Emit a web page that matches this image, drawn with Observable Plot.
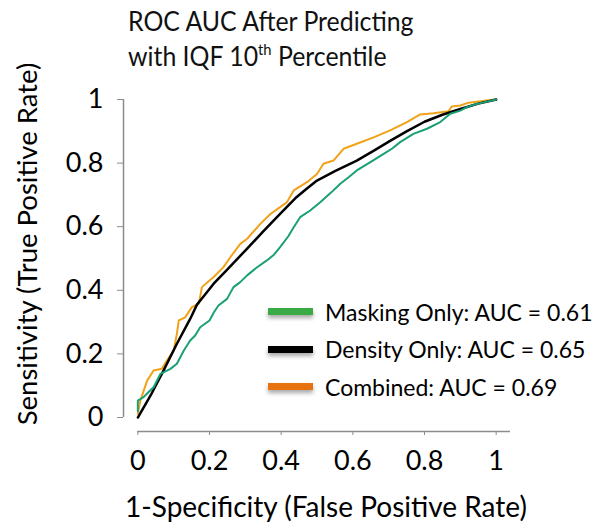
<!DOCTYPE html>
<html>
<head>
<meta charset="utf-8">
<script src="https://cdn.jsdelivr.net/npm/d3@7"></script>
<script src="https://cdn.jsdelivr.net/npm/@observablehq/plot@0.6"></script>
<style>
  html, body { margin: 0; padding: 0; background: #fff; }
  #wrap { position: relative; width: 607px; height: 527px; font-family: "Lato", "Open Sans", sans-serif; color: #000; overflow: hidden; }
  #wrap svg { position: absolute; left: 0; top: 0; }
  .title { position: absolute; left: 128px; top: 3px; font-size: 27px; line-height: 35px; white-space: nowrap; color: #111; transform: scaleX(0.92); transform-origin: 0 0; }
  .title sup { font-size: 16px; vertical-align: 0; position: relative; top: -11px; }
  .ylab { position: absolute; left: 26px; top: 244px; font-size: 27.5px; white-space: nowrap; transform: translate(-50%, -50%) rotate(-90deg); }
  .xlab { position: absolute; left: 326px; top: 489px; font-size: 28px; white-space: nowrap; transform: translateX(-50%); }
  .legend { position: absolute; left: 268px; top: 293px; }
  .legend .row { display: flex; align-items: center; height: 37.5px; }
  .legend .bar { width: 45px; height: 7px; margin-right: 12px; box-shadow: 0 3px 4px rgba(0,0,0,0.35); }
  .legend .lab { font-size: 23px; white-space: nowrap; }
</style>
</head>
<body>
<div id="wrap">
  <div class="title">ROC AUC After Predicting<br>with IQF 10<sup>th</sup> Percentile</div>
  <div class="ylab">Sensitivity (True Positive Rate)</div>
  <div class="xlab">1-Specificity (False Positive Rate)</div>
  <div class="legend" id="legend"></div>
</div>
<script>
// ---- Data ----
const seriesNames = ["Masking Only", "Density Only", "Combined"];
const aucValues = ["0.61", "0.65", "0.69"];
const curveColors = ["#1a9f76", "#000000", "#f1a219"];
const legendColors = ["#3aaa47", "#000000", "#e8720f"];

const xTicks = [0, 0.2, 0.4, 0.6, 0.8, 1];
const xTickLabels = ["0", "0.2", "0.4", "0.6", "0.8", "1"];
const yTicks = [0, 0.2, 0.4, 0.6, 0.8, 1];
const yTickLabels = ["0", "0.2", "0.4", "0.6", "0.8", "1"];

// Masking Only (green)
const maskingFpr = [0, 0, 0.016, 0.03, 0.044, 0.063, 0.091, 0.109, 0.128, 0.146, 0.16, 0.174, 0.2, 0.212, 0.225, 0.249, 0.267, 0.285, 0.305, 0.33, 0.36, 0.38, 0.397, 0.42, 0.435, 0.453, 0.481, 0.509, 0.54, 0.565, 0.59, 0.611, 0.649, 0.686, 0.71, 0.732, 0.769, 0.807, 0.844, 0.872, 0.9, 0.918, 0.94, 0.965, 1];
const maskingTpr = [0.02, 0.053, 0.064, 0.08, 0.095, 0.137, 0.153, 0.169, 0.21, 0.242, 0.258, 0.284, 0.305, 0.33, 0.352, 0.373, 0.41, 0.425, 0.447, 0.47, 0.494, 0.512, 0.536, 0.57, 0.598, 0.63, 0.651, 0.677, 0.708, 0.735, 0.757, 0.777, 0.803, 0.829, 0.846, 0.866, 0.892, 0.908, 0.929, 0.955, 0.965, 0.976, 0.984, 0.991, 1];

// Density Only (black)
const densityFpr = [0, 0.036, 0.072, 0.109, 0.146, 0.165, 0.19, 0.211, 0.25, 0.305, 0.35, 0.397, 0.44, 0.472, 0.5, 0.55, 0.611, 0.66, 0.704, 0.75, 0.8, 0.85, 0.9, 0.95, 1];
const densityTpr = [0, 0.07, 0.148, 0.232, 0.31, 0.355, 0.39, 0.42, 0.466, 0.531, 0.585, 0.64, 0.69, 0.72, 0.745, 0.775, 0.808, 0.84, 0.87, 0.9, 0.93, 0.952, 0.97, 0.987, 1];

// Combined (orange)
const combinedFpr = [0, 0.007, 0.026, 0.044, 0.067, 0.081, 0.1, 0.109, 0.114, 0.132, 0.151, 0.17, 0.179, 0.2, 0.211, 0.239, 0.258, 0.286, 0.305, 0.342, 0.37, 0.395, 0.416, 0.435, 0.472, 0.5, 0.518, 0.546, 0.574, 0.611, 0.658, 0.704, 0.751, 0.788, 0.825, 0.867, 0.876, 0.9, 0.923, 0.974, 1];
const combinedTpr = [0.012, 0.053, 0.116, 0.148, 0.153, 0.179, 0.21, 0.263, 0.305, 0.315, 0.347, 0.358, 0.41, 0.431, 0.441, 0.473, 0.504, 0.546, 0.562, 0.609, 0.64, 0.66, 0.677, 0.714, 0.74, 0.766, 0.798, 0.808, 0.845, 0.861, 0.881, 0.903, 0.929, 0.953, 0.957, 0.963, 0.978, 0.981, 0.99, 0.997, 1];

// ---- Build tables ----
const toRows = (fpr, tpr, name) => fpr.map((f, i) => ({series: name, fpr: f, tpr: tpr[i]}));
const masking = toRows(maskingFpr, maskingTpr, seriesNames[0]);
const density = toRows(densityFpr, densityTpr, seriesNames[1]);
const combined = toRows(combinedFpr, combinedTpr, seriesNames[2]);

const fontFam = "Lato, 'Open Sans', sans-serif";
const axisGray = "#8c8c8c";

const chart = Plot.plot({
  width: 607,
  height: 527,
  marginLeft: 123,
  marginRight: 97,
  marginTop: 99,
  marginBottom: 96,
  x: {domain: [-0.04, 1.04]},
  y: {domain: [-0.044, 1]},
  style: {fontFamily: fontFam, fontSize: "27px", color: "#000", background: "transparent", overflow: "visible"},
  marks: [
    Plot.ruleX([-0.04], {y1: 0, y2: 1, stroke: axisGray, strokeWidth: 1.5}),
    Plot.ruleY([-0.044], {x1: 0, x2: 1.04, stroke: axisGray, strokeWidth: 1.5}),
    Plot.axisX({ticks: xTicks, tickFormat: (d, i) => xTickLabels[i], tickSize: 4, tickPadding: 15, stroke: axisGray, fill: "#000", label: null, fontSize: 27}),
    Plot.axisY({ticks: yTicks, tickFormat: (d, i) => yTickLabels[i], tickSize: 6, tickPadding: 14, stroke: axisGray, fill: "#000", label: null, fontSize: 27}),
    Plot.line(combined, {x: "fpr", y: "tpr", stroke: curveColors[2], strokeWidth: 2}),
    Plot.line(density, {x: "fpr", y: "tpr", stroke: curveColors[1], strokeWidth: 2.5}),
    Plot.line(masking, {x: "fpr", y: "tpr", stroke: curveColors[0], strokeWidth: 2})
  ]
});
document.getElementById("wrap").prepend(chart);

// Legend
const legend = document.getElementById("legend");
seriesNames.forEach((name, i) => {
  const row = document.createElement("div");
  row.className = "row";
  const bar = document.createElement("div");
  bar.className = "bar";
  bar.style.background = legendColors[i];
  const lab = document.createElement("div");
  lab.className = "lab";
  lab.textContent = `${name}: AUC = ${aucValues[i]}`;
  row.appendChild(bar);
  row.appendChild(lab);
  legend.appendChild(row);
});
</script>
</body>
</html>
